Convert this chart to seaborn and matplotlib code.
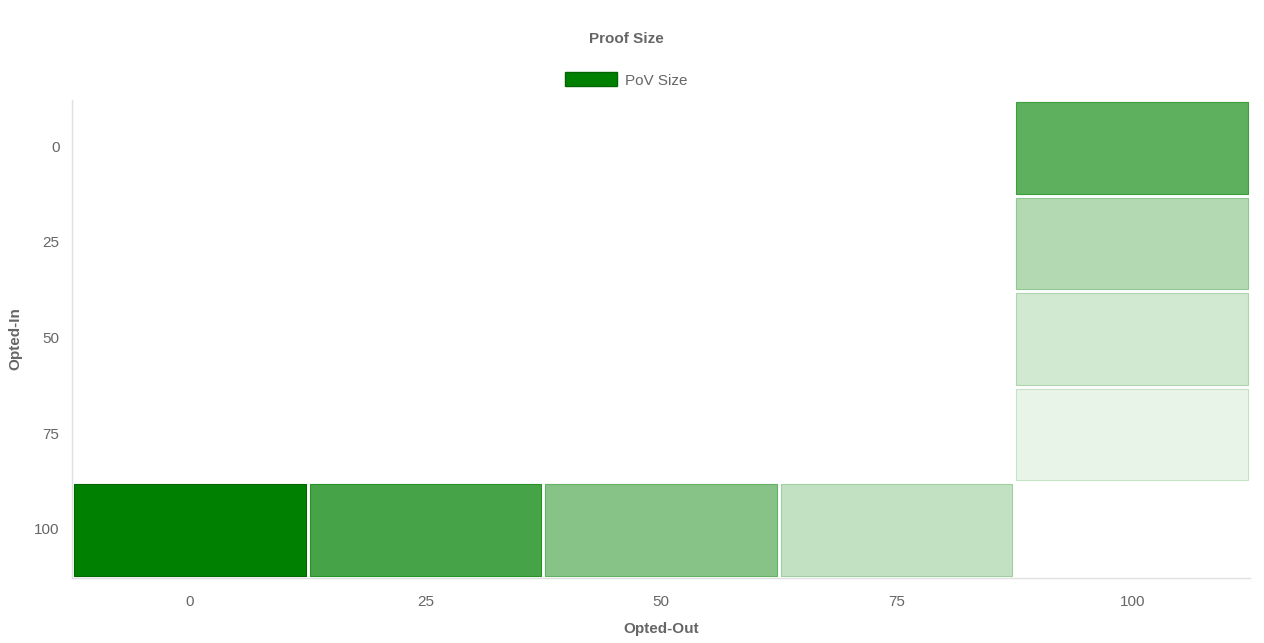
import numpy as np
import pandas as pd
import seaborn as sns
import matplotlib.pyplot as plt
from matplotlib.colors import LinearSegmentedColormap, to_rgb
from matplotlib.patches import Patch, Rectangle

# opted-out percentage (x) / opted-in percentage (y)
opted_out = [0, 25, 50, 75, 100]
opted_in = [0, 25, 50, 75, 100]

# relative PoV size per cell (read from the shading)
bottom_row = [100, 72, 47, 24]     # opted-in 100, opted-out 0..75
right_col = [63, 30, 18, 9]        # opted-out 100, opted-in 0..75

grid = pd.DataFrame(np.nan, index=opted_in, columns=opted_out)
for xo, v in zip(opted_out[:4], bottom_row):
    grid.loc[100, xo] = v
for yi, v in zip(opted_in[:4], right_col):
    grid.loc[yi, 100] = v

green = "#008000"
grey = "#666666"
cmap = LinearSegmentedColormap.from_list("pov", ["#ffffff", green])
vmax = np.nanmax(grid.values)

sns.set_style("white")
plt.rcParams["font.family"] = ["Liberation Sans", "DejaVu Sans"]

fig = plt.figure(figsize=(12.64, 6.43), dpi=100)
ax = fig.add_axes([72 / 1264, 1 - 578 / 643, 1178 / 1264, 478 / 643])

# white lines ~3px wide give the gaps between cells
sns.heatmap(grid, ax=ax, cmap=cmap, vmin=0, vmax=vmax, cbar=False,
            mask=grid.isna(), linewidths=2.2, linecolor="white")

# one pixel in data units (5 columns over 1178px, 5 rows over 478px)
px_x = len(opted_out) / 1178
px_y = len(opted_in) / 478
g = np.array(to_rgb(green))
for i, yi in enumerate(opted_in):
    for j, xo in enumerate(opted_out):
        v = grid.loc[yi, xo]
        if np.isnan(v):
            continue
        a = min(1.0, v / vmax + 0.14)
        ec = tuple(1 - a * (1 - g)) if v < vmax else "#006600"
        ax.add_patch(Rectangle((j + 2 * px_x, i + 2 * px_y),
                               1 - 4 * px_x, 1 - 4 * px_y,
                               facecolor=cmap(v / vmax), edgecolor=ec,
                               linewidth=0.8, zorder=4))

ax.set_xticklabels(opted_out, rotation=0)
ax.set_yticklabels(opted_in, rotation=0)
ax.tick_params(axis="both", length=0, labelsize=11, colors=grey)
ax.tick_params(axis="x", pad=12)
ax.tick_params(axis="y", pad=9)
ax.set_xlabel("Opted-Out", fontsize=11, fontweight="bold", color=grey)
ax.set_ylabel("Opted-In", fontsize=11, fontweight="bold", color=grey)
ax.xaxis.set_label_coords(0.5, -0.0925)
ax.yaxis.set_label_coords(-0.042, 0.5)

for side in ["top", "right"]:
    ax.spines[side].set_visible(False)
for side in ["left", "bottom"]:
    ax.spines[side].set_visible(True)
    ax.spines[side].set_color("#e0e0e0")
    ax.spines[side].set_linewidth(1)
    ax.spines[side].set_zorder(5)

fig.text(626 / 1264, 1 - 39 / 643, "Proof Size", ha="center", va="center",
         fontsize=11, fontweight="bold", color=grey)
fig.legend(handles=[Patch(facecolor=green, edgecolor="#006600", label="PoV Size")],
           loc="center", bbox_to_anchor=(626 / 1264, 1 - 80 / 643), frameon=False,
           fontsize=11, labelcolor=grey, handlelength=3.4, handleheight=1.0,
           handletextpad=0.5)

fig.savefig("out.png", dpi=100)
